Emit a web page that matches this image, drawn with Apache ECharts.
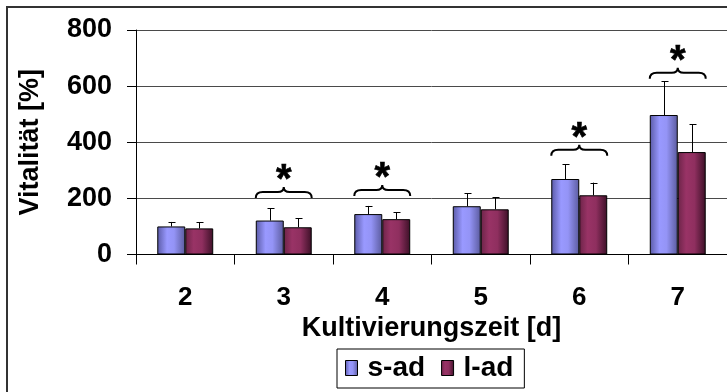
<!DOCTYPE html>
<html>
<head>
<meta charset="utf-8">
<script src="https://cdn.jsdelivr.net/npm/echarts@6/dist/echarts.min.js"></script>
<style>
  html, body { margin: 0; padding: 0; background: #fff; }
  #chart { width: 727px; height: 392px; }
</style>
</head>
<body>
<div id="chart"></div>
<script>
// Cultivation days and vitality (% of day-2 reference) per adhesion group
const categories = ['2', '3', '4', '5', '6', '7'];
const sAdValues = [100, 121, 144, 172, 269, 497];
const sAdErrors = [16, 43, 29, 47, 52, 120];
const lAdValues = [93, 97, 126, 161, 211, 365];
const lAdErrors = [22, 33, 25, 43, 45, 99];
const yTicks = [0, 200, 400, 600, 800];

// Significant differences: category label and the height of the brace
const sigCategories = ['3', '4', '6', '7'];
const sigLevels = [223, 230, 373, 648];

const FONT = 'Arial, "Liberation Sans", sans-serif';
const BAR_FRACTION = 0.284;

const sAdFill = new echarts.graphic.LinearGradient(0, 0, 1, 0, [
  { offset: 0, color: '#5a5aa6' },
  { offset: 0.35, color: '#9999ff' },
  { offset: 0.6, color: '#9494f6' },
  { offset: 1, color: '#5b5b9e' }
]);
const lAdFill = new echarts.graphic.LinearGradient(0, 0, 1, 0, [
  { offset: 0, color: '#6c2448' },
  { offset: 0.3, color: '#993366' },
  { offset: 0.6, color: '#8f2f5f' },
  { offset: 1, color: '#3c1027' }
]);

function errorBarSeries(values, errors, side) {
  return {
    type: 'custom',
    silent: true,
    z: 5,
    data: values.map((v, i) => [i, v, v + errors[i]]),
    renderItem: function (params, api) {
      const band = api.size([1, 0])[0];
      const dx = side * band * BAR_FRACTION / 2;
      const base = api.coord([api.value(0), api.value(1)]);
      const top = api.coord([api.value(0), api.value(2)]);
      const x = Math.round(base[0] + dx) + 0.5;
      const style = { stroke: '#000', lineWidth: 1 };
      return {
        type: 'group',
        children: [
          { type: 'line', shape: { x1: x, y1: base[1], x2: x, y2: top[1] }, style },
          { type: 'line', shape: { x1: x - 3, y1: Math.round(top[1]) + 0.5, x2: x + 4, y2: Math.round(top[1]) + 0.5 }, style }
        ]
      };
    }
  };
}

const chart = echarts.init(document.getElementById('chart'), null, { renderer: 'canvas' });

chart.setOption({
  animation: false,
  backgroundColor: '#fff',
  textStyle: { fontFamily: FONT },
  graphic: [{
    type: 'rect',
    silent: true,
    z: -10,
    shape: { x: 7, y: 7, width: 1000, height: 1000 },
    style: { fill: 'none', stroke: '#333', lineWidth: 2 }
  }],
  grid: { left: 136, top: 30, width: 592, height: 224.5 },
  legend: {
    data: ['s-ad', 'l-ad'],
    left: 337,
    top: 349,
    padding: [5, 11, 6, 8],
    itemGap: 16,
    itemWidth: 12,
    itemHeight: 15,
    icon: 'rect',
    borderColor: '#000',
    borderWidth: 1,
    textStyle: { fontFamily: FONT, fontWeight: 'bold', fontSize: 28, color: '#000', padding: [0, 0, 0, 5] },
    itemStyle: { borderColor: '#000', borderWidth: 1 }
  },
  xAxis: {
    type: 'category',
    data: categories,
    name: 'Kultivierungszeit [d]',
    nameLocation: 'middle',
    nameGap: 60,
    nameTextStyle: { fontFamily: FONT, fontWeight: 'bold', fontSize: 27, color: '#000' },
    axisLine: { lineStyle: { color: '#000', width: 1 } },
    axisTick: { show: true, length: 10, lineStyle: { color: '#000' } },
    axisLabel: { margin: 30, fontFamily: FONT, fontWeight: 'bold', fontSize: 26, color: '#000' },
    splitLine: { show: false }
  },
  yAxis: {
    type: 'value',
    min: yTicks[0],
    max: yTicks[yTicks.length - 1],
    interval: 200,
    name: 'Vitalität [%]',
    nameLocation: 'middle',
    nameRotate: 90,
    nameGap: 92,
    nameTextStyle: { fontFamily: FONT, fontWeight: 'bold', fontSize: 27, color: '#000' },
    axisLine: { show: true, lineStyle: { color: '#000', width: 1 } },
    axisTick: { show: true, length: 9, lineStyle: { color: '#000' } },
    axisLabel: { margin: 24, fontFamily: FONT, fontWeight: 'bold', fontSize: 27, color: '#000' },
    splitLine: { show: true, lineStyle: { color: '#4a4a4a', width: 1 } }
  },
  series: [
    {
      name: 's-ad',
      type: 'bar',
      data: sAdValues,
      barWidth: (BAR_FRACTION * 100) + '%',
      barGap: '0%',
      itemStyle: { color: sAdFill, borderColor: '#000', borderWidth: 1 },
      z: 3
    },
    {
      name: 'l-ad',
      type: 'bar',
      data: lAdValues,
      barWidth: (BAR_FRACTION * 100) + '%',
      barGap: '0%',
      itemStyle: { color: lAdFill, borderColor: '#000', borderWidth: 1 },
      z: 3
    },
    errorBarSeries(sAdValues, sAdErrors, -1),
    errorBarSeries(lAdValues, lAdErrors, 1),
    {
      // curly brace with asterisk over significantly different pairs
      type: 'custom',
      silent: true,
      z: 6,
      data: sigCategories.map((c, i) => [categories.indexOf(c), sigLevels[i]]),
      renderItem: function (params, api) {
        const p = api.coord([api.value(0), api.value(1)]);
        const band = api.size([1, 0])[0];
        const half = band * BAR_FRACTION;
        const xc = p[0];
        const x0 = xc - half;
        const x1 = xc + half;
        const y = p[1];
        const d = 'M' + x0 + ',' + (y + 6) +
          ' Q' + x0 + ',' + y + ' ' + (x0 + 7) + ',' + y +
          ' L' + (xc - 6) + ',' + y +
          ' Q' + xc + ',' + y + ' ' + xc + ',' + (y - 5) +
          ' Q' + xc + ',' + y + ' ' + (xc + 6) + ',' + y +
          ' L' + (x1 - 7) + ',' + y +
          ' Q' + x1 + ',' + y + ' ' + x1 + ',' + (y + 6);
        return {
          type: 'group',
          children: [
            { type: 'path', shape: { pathData: d }, style: { fill: 'none', stroke: '#000', lineWidth: 2 } },
            {
              type: 'text',
              style: {
                text: '*', x: xc, y: y + 9,
                font: 'bold 40px ' + FONT,
                fill: '#000', align: 'center', verticalAlign: 'bottom',
                stroke: '#000', lineWidth: 0.6
              }
            }
          ]
        };
      }
    }
  ]
});
</script>
</body>
</html>
